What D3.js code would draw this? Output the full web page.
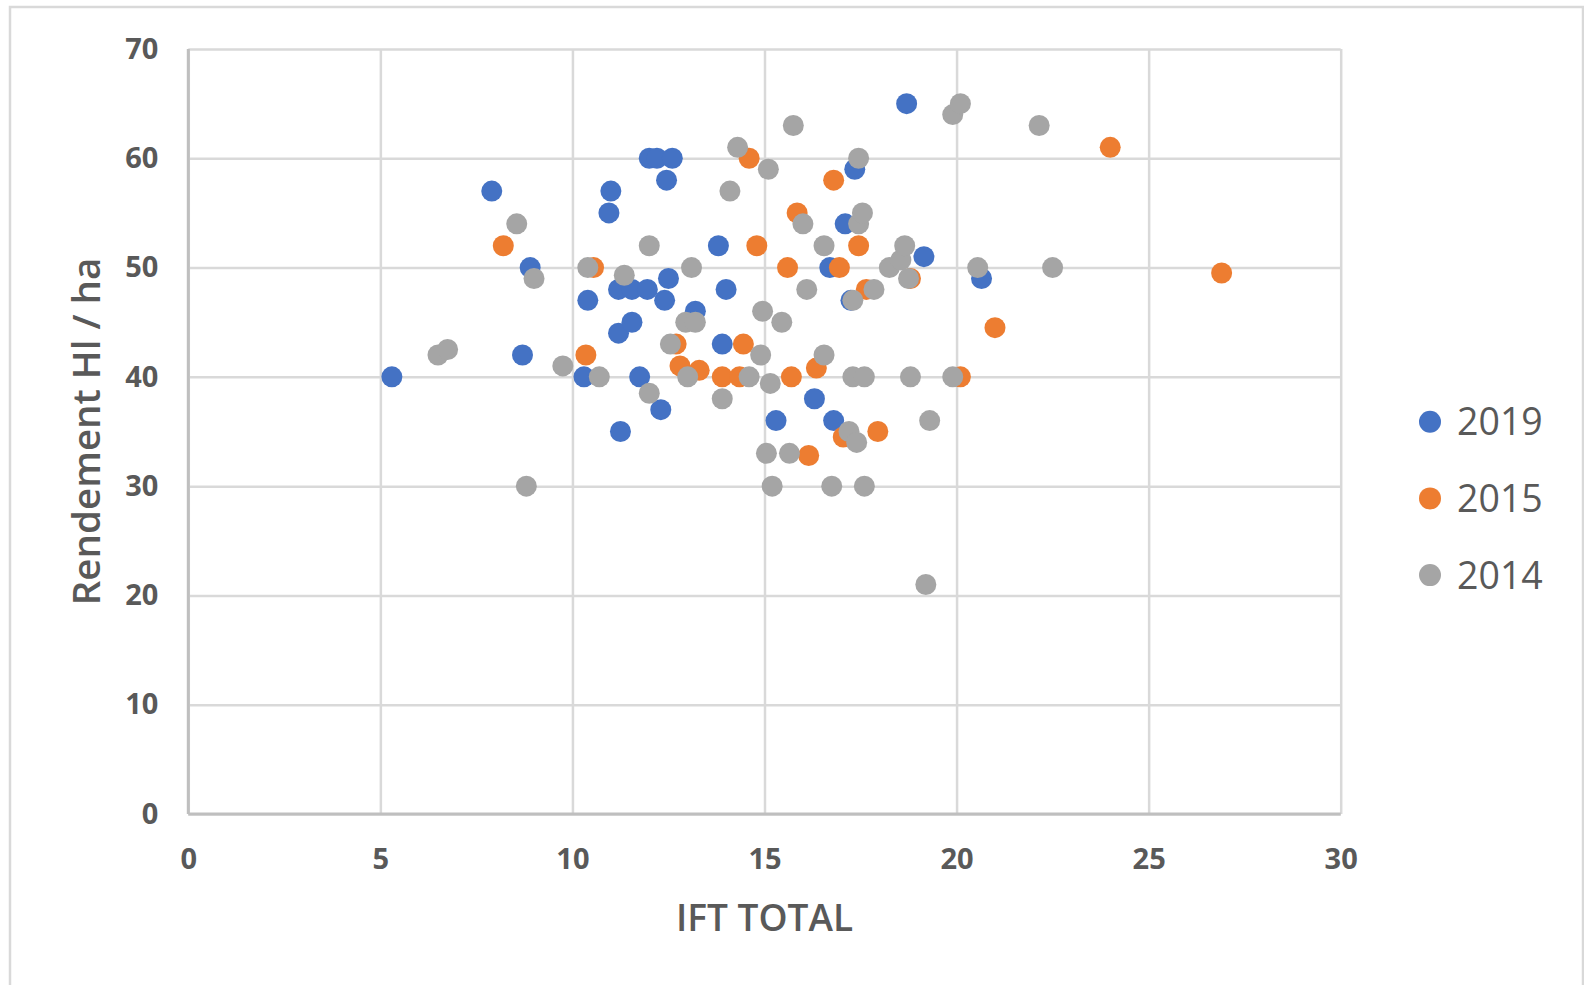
<!DOCTYPE html>
<html>
<head>
<meta charset="utf-8">
<script src="https://cdn.jsdelivr.net/npm/d3@7"></script>
<style>
  body { margin: 0; background: #fff; }
  text { font-family: "Open Sans", "Noto Sans", sans-serif; fill: #595959; }
</style>
</head>
<body>
<div id="chart"></div>
<script>
// Series values (IFT TOTAL, Rendement)
const ift2019 = [5.3, 7.9, 8.7, 8.9, 10.4, 10.3, 11.0, 10.95, 11.2, 11.55, 11.95, 11.2, 11.55, 11.25, 11.75, 12.0, 12.2, 12.6,
  12.45, 12.5, 12.4, 12.3, 13.2, 13.8, 13.9, 14.0, 15.3, 16.3, 16.8, 17.1, 16.7, 17.25, 17.35, 18.7, 19.15, 20.65];
const rdt2019 = [40, 57, 42, 50, 47, 40, 57, 55, 48, 48, 48, 44, 45, 35, 40, 60, 60, 60,
  58, 49, 47, 37, 46, 52, 43, 48, 36, 38, 36, 54, 50, 47, 59, 65, 51, 49];

const ift2015 = [8.2, 10.55, 10.35, 12.7, 12.8, 13.3, 13.9, 14.35, 14.45, 14.6, 14.8, 15.6, 15.7, 15.85, 16.15, 16.35,
  16.8, 16.95, 17.05, 17.45, 17.65, 17.95, 18.8, 20.1, 21.0, 24.0, 26.9];
const rdt2015 = [52, 50, 42, 43, 41, 40.6, 40, 40, 43, 60, 52, 50, 40, 55, 32.8, 40.8,
  58, 50, 34.5, 52, 48, 35, 49, 40, 44.5, 61, 49.5];

const ift2014 = [6.5, 6.75, 8.55, 8.8, 9.0, 9.75, 10.4, 10.7, 11.35, 12.0, 12.0, 12.55, 12.95, 13.2, 13.0, 13.1, 13.9,
  14.1, 14.3, 14.6, 14.9, 14.95, 15.05, 15.1, 15.15, 15.2, 15.45, 15.65, 15.75, 16.0, 16.1, 16.55, 16.55, 16.75,
  17.2, 17.3, 17.3, 17.4, 17.45, 17.45, 17.55, 17.6, 17.6, 17.85, 18.25, 18.55, 18.65, 18.75, 18.8, 19.2, 19.3,
  19.9, 19.9, 20.1, 20.55, 22.15, 22.5];
const rdt2014 = [42, 42.5, 54, 30, 49, 41, 50, 40, 49.3, 52, 38.5, 43, 45, 45, 40, 50, 38,
  57, 61, 40, 42, 46, 33, 59, 39.4, 30, 45, 33, 63, 54, 48, 52, 42, 30,
  35, 47, 40, 34, 54, 60, 55, 40, 30, 48, 50, 50.7, 52, 49, 40, 21, 36,
  40, 64, 65, 50, 63, 50];

const seriesNames = ["2019", "2015", "2014"];
const seriesColors = ["#4472C4", "#ED7D31", "#A5A5A5"];
const xTicks = [0, 5, 10, 15, 20, 25, 30];
const yTicks = [0, 10, 20, 30, 40, 50, 60, 70];

const series = [
  {name: seriesNames[0], color: seriesColors[0], xs: ift2019, ys: rdt2019},
  {name: seriesNames[1], color: seriesColors[1], xs: ift2015, ys: rdt2015},
  {name: seriesNames[2], color: seriesColors[2], xs: ift2014, ys: rdt2014}
];

const W = 1584, H = 985;
const margin = {top: 49, left: 188.3, right: W - 1340.7, bottom: H - 814};
const width = W - margin.left - margin.right,
    height = H - margin.top - margin.bottom;

const root = d3.select("#chart").append("svg")
    .attr("width", W)
    .attr("height", H);

// outer chart frame
root.append("rect")
    .attr("x", 10).attr("y", 7)
    .attr("width", 1573).attr("height", 1000)
    .attr("fill", "none")
    .attr("stroke", "#d9d9d9")
    .attr("stroke-width", 2.5);

const svg = root.append("g")
    .attr("transform", `translate(${margin.left}, ${margin.top})`);

const x = d3.scaleLinear().domain([0, 30]).range([0, width]);
const y = d3.scaleLinear().domain([0, 70]).range([height, 0]);

// X axis + vertical gridlines
const xAxis = svg.append("g")
    .attr("transform", `translate(0, ${height})`)
    .call(d3.axisBottom(x).tickValues(xTicks).tickSize(-height).tickPadding(34));
xAxis.select(".domain").remove();
xAxis.selectAll("line").attr("stroke", "#d9d9d9").attr("stroke-width", 2.5);
xAxis.selectAll("text").attr("font-size", 29).attr("font-weight", 700)
    .style("font-family", '"Open Sans", sans-serif').attr("fill", "#595959");

// Y axis + horizontal gridlines
const yAxis = svg.append("g")
    .call(d3.axisLeft(y).tickValues(yTicks).tickSize(-width).tickPadding(30));
yAxis.select(".domain").remove();
yAxis.selectAll("line").attr("stroke", "#d9d9d9").attr("stroke-width", 2.5);
yAxis.selectAll("text").attr("font-size", 29).attr("font-weight", 700)
    .style("font-family", '"Open Sans", sans-serif').attr("fill", "#595959");

// axis lines
svg.append("line")
    .attr("x1", 0).attr("x2", 0).attr("y1", 0).attr("y2", height)
    .attr("stroke", "#bfbfbf").attr("stroke-width", 3);
svg.append("line")
    .attr("x1", 0).attr("x2", width).attr("y1", height).attr("y2", height)
    .attr("stroke", "#bfbfbf").attr("stroke-width", 3);

// dots
series.forEach(function(s) {
    svg.append("g")
        .selectAll("circle")
        .data(d3.range(s.xs.length))
        .enter()
        .append("circle")
            .attr("cx", function(i) { return x(s.xs[i]); })
            .attr("cy", function(i) { return y(s.ys[i]); })
            .attr("r", 10.5)
            .style("fill", s.color);
});

// X axis label
root.append("text")
    .attr("text-anchor", "middle")
    .attr("x", margin.left + width / 2)
    .attr("y", 931)
    .attr("font-size", 37)
    .attr("font-weight", 600)
    .text("IFT TOTAL");

// Y axis label
root.append("text")
    .attr("text-anchor", "middle")
    .attr("transform", `translate(100, ${margin.top + height / 2}) rotate(-90)`)
    .attr("font-size", 38.5)
    .attr("font-weight", 600)
    .text("Rendement Hl / ha");

// legend
const legend = root.append("g");
series.forEach(function(s, i) {
    const ly = 421.7 + i * 76.7;
    legend.append("circle")
        .attr("cx", 1430).attr("cy", ly).attr("r", 11)
        .style("fill", s.color);
    legend.append("text")
        .attr("x", 1457).attr("y", ly)
        .attr("dy", "0.36em")
        .attr("font-size", 37.5)
        .text(s.name);
});
</script>
</body>
</html>
